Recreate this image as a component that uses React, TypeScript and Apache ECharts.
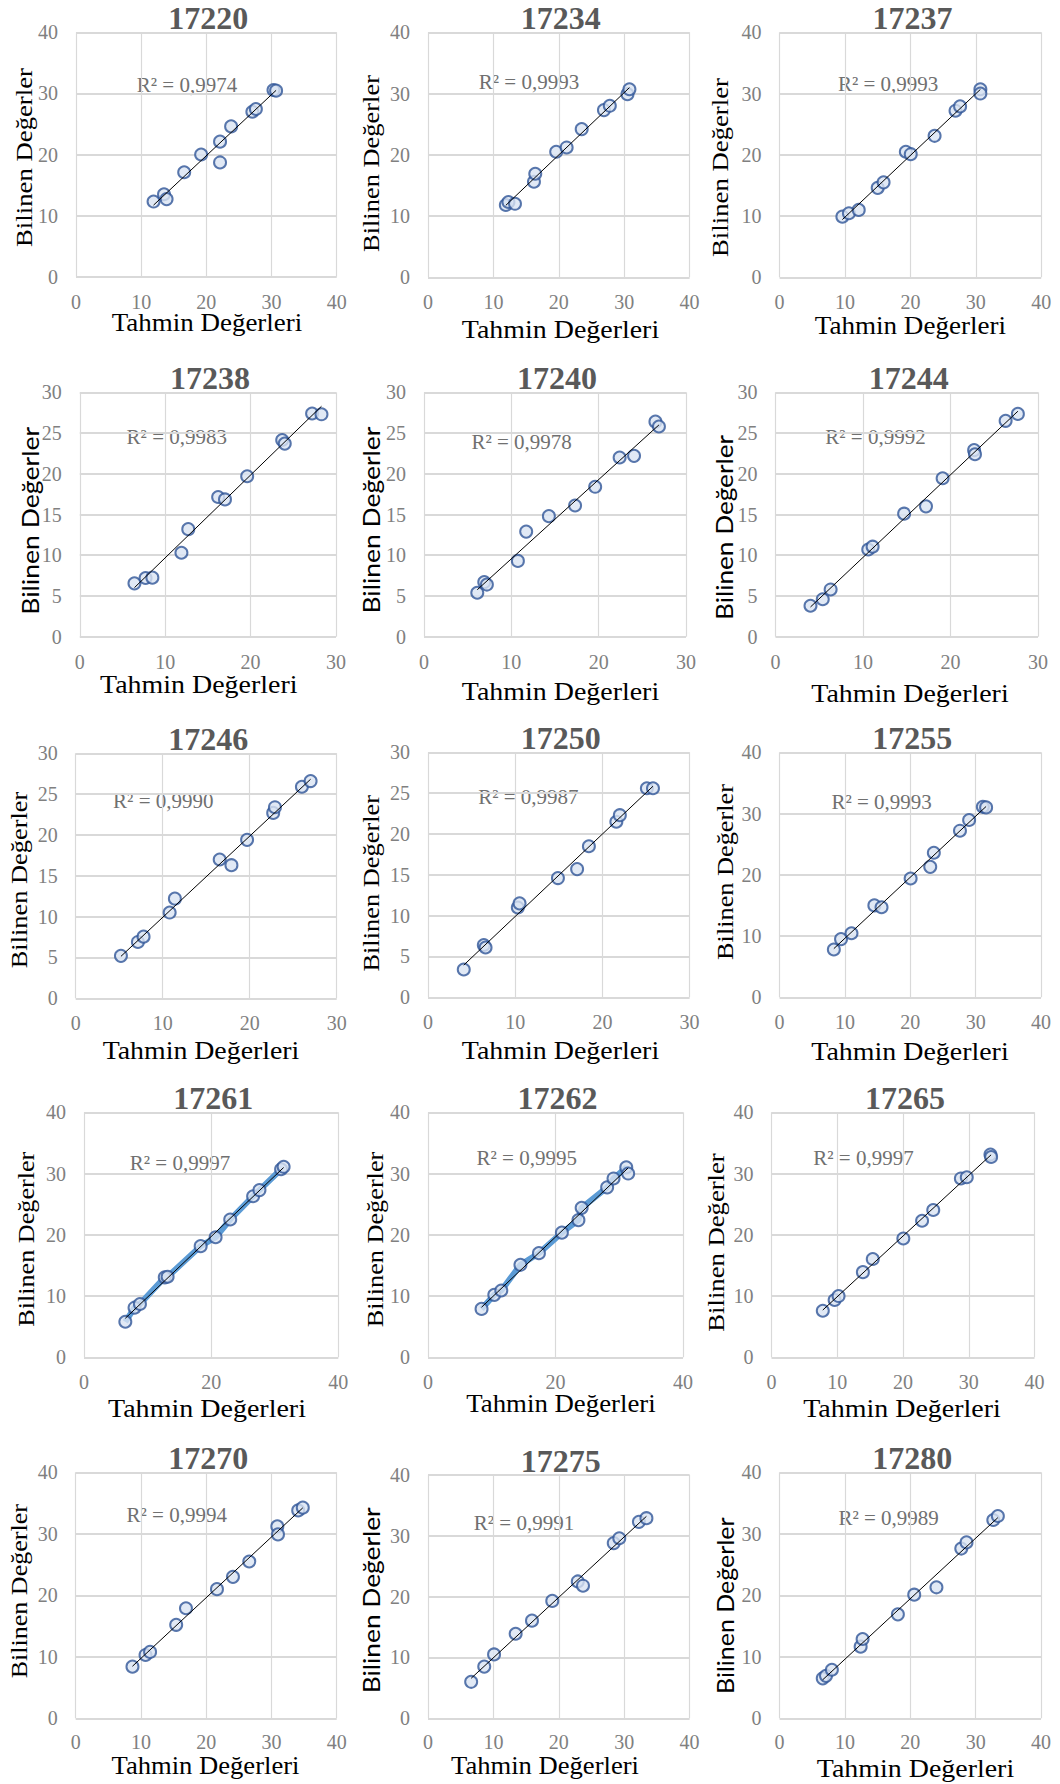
import React, { useEffect, useRef } from "react";
import * as echarts from "echarts";

// ---------- titles & labels ----------
const titles = ["17220", "17234", "17237", "17238", "17240", "17244", "17246", "17250", "17255", "17261", "17262", "17265", "17270", "17275", "17280"];
const r2Labels = ["R² = 0,9974", "R² = 0,9993", "R² = 0,9993", "R² = 0,9983", "R² = 0,9978", "R² = 0,9992", "R² = 0,9990", "R² = 0,9987", "R² = 0,9993", "R² = 0,9997", "R² = 0,9995", "R² = 0,9997", "R² = 0,9994", "R² = 0,9991", "R² = 0,9989"];
const xAxisName = "Tahmin Değerleri";
const yAxisName = "Bilinen Değerler";

// ---------- data (Tahmin = x, Bilinen = y) ----------
const x17220 = [11.9, 13.5, 13.9, 16.6, 19.2, 22.1, 22.1, 23.8, 27.06, 27.6, 30.3, 30.7];
const y17220 = [12.3, 13.5, 12.7, 17.1, 20.0, 22.1, 18.7, 24.6, 27.0, 27.45, 30.55, 30.45];

const x17234 = [11.9, 12.3, 13.3, 16.2, 16.4, 19.6, 21.2, 23.5, 26.9, 27.8, 30.5, 30.8];
const y17234 = [11.8, 12.3, 12.0, 15.6, 16.9, 20.5, 21.2, 24.2, 27.3, 28.0, 29.9, 30.7];

const x17237 = [9.6, 10.6, 12.1, 15.0, 15.9, 19.3, 20.05, 23.7, 26.9, 27.6, 30.7, 30.7];
const y17237 = [9.9, 10.45, 11.0, 14.6, 15.5, 20.5, 20.1, 23.1, 27.2, 27.9, 30.7, 30.0];

const x17238 = [6.4, 7.7, 8.5, 11.9, 12.7, 16.2, 17.0, 19.6, 23.7, 24.0, 27.2, 28.3];
const y17238 = [6.55, 7.2, 7.25, 10.3, 13.2, 17.15, 16.85, 19.7, 24.15, 23.7, 27.4, 27.3];

const x17240 = [6.1, 6.9, 7.2, 10.75, 11.7, 14.3, 17.3, 19.6, 22.4, 24.05, 26.5, 26.9];
const y17240 = [5.4, 6.7, 6.4, 9.3, 12.9, 14.8, 16.1, 18.4, 22.0, 22.2, 26.4, 25.8];

const x17244 = [4.0, 5.4, 6.3, 10.6, 11.1, 14.7, 17.2, 19.1, 22.7, 22.8, 26.3, 27.7];
const y17244 = [3.8, 4.6, 5.8, 10.7, 11.05, 15.1, 16.0, 19.45, 22.9, 22.4, 26.5, 27.35];

const x17246 = [5.2, 7.15, 7.8, 10.8, 11.4, 16.55, 17.9, 19.7, 22.7, 22.9, 26.0, 27.0];
const y17246 = [5.2, 6.9, 7.55, 10.5, 12.2, 17.0, 16.3, 19.4, 22.7, 23.4, 25.9, 26.6];

const x17250 = [4.1, 6.4, 6.6, 10.3, 10.5, 14.9, 17.1, 18.45, 21.6, 22.0, 25.1, 25.8];
const y17250 = [3.4, 6.4, 6.1, 11.0, 11.5, 14.6, 15.7, 18.5, 21.5, 22.3, 25.6, 25.6];

const x17255 = [8.3, 9.4, 11.0, 14.5, 15.6, 20.05, 23.05, 23.6, 27.6, 29.0, 31.1, 31.6];
const y17255 = [7.8, 9.5, 10.45, 15.0, 14.7, 19.4, 21.3, 23.6, 27.2, 28.95, 31.1, 31.0];

const x17261 = [6.5, 7.95, 8.8, 12.7, 13.15, 18.35, 20.7, 23.0, 26.6, 27.6, 31.0, 31.4];
const y17261 = [5.8, 8.1, 8.7, 13.05, 13.15, 18.15, 19.6, 22.5, 26.3, 27.3, 30.7, 31.1];

const x17262 = [8.4, 10.4, 11.5, 14.5, 17.4, 21.0, 23.6, 24.1, 28.1, 29.1, 31.1, 31.4];
const y17262 = [7.9, 10.2, 10.9, 15.1, 17.0, 20.35, 22.4, 24.4, 27.75, 29.2, 31.0, 30.0];

const x17265 = [7.8, 9.6, 10.2, 13.9, 15.4, 20.05, 22.9, 24.6, 28.8, 29.7, 33.3, 33.4];
const y17265 = [7.6, 9.35, 10.0, 13.9, 16.05, 19.4, 22.3, 24.05, 29.2, 29.4, 33.1, 32.7];

const x17270 = [8.7, 10.7, 11.4, 15.4, 16.9, 21.65, 24.1, 26.6, 30.9, 31.0, 34.1, 34.8];
const y17270 = [8.4, 10.3, 10.8, 15.2, 17.9, 21.0, 23.0, 25.5, 31.2, 29.9, 33.8, 34.25];

const x17275 = [6.6, 8.6, 10.1, 13.4, 15.9, 19.0, 22.9, 23.7, 28.4, 29.25, 32.25, 33.4];
const y17275 = [6.0, 8.5, 10.5, 13.9, 16.05, 19.3, 22.5, 21.8, 28.8, 29.6, 32.3, 32.9];

const x17280 = [6.6, 7.1, 8.0, 12.4, 12.7, 18.1, 20.6, 24.0, 27.8, 28.6, 32.7, 33.4];
const y17280 = [6.5, 6.9, 7.9, 11.65, 12.9, 16.9, 20.1, 21.3, 27.6, 28.6, 32.25, 32.9];

const xsList = [x17220, x17234, x17237, x17238, x17240, x17244, x17246, x17250, x17255, x17261, x17262, x17265, x17270, x17275, x17280];
const ysList = [y17220, y17234, y17237, y17238, y17240, y17244, y17246, y17250, y17255, y17261, y17262, y17265, y17270, y17275, y17280];

// ---------- axis scales ----------
const axisMaxX = [40, 40, 40, 30, 30, 30, 30, 30, 40, 40, 40, 40, 40, 40, 40];
const axisStepX = [10, 10, 10, 10, 10, 10, 10, 10, 10, 20, 20, 10, 10, 10, 10];
const axisMaxY = [40, 40, 40, 30, 30, 30, 30, 30, 40, 40, 40, 40, 40, 40, 40];
const axisStepY = [10, 10, 10, 5, 5, 5, 5, 5, 10, 10, 10, 10, 10, 10, 10];
const connectLine = [false, false, false, false, false, false, false, false, false, true, true, false, false, false, false];
const sansYName = [false, false, false, true, true, true, false, false, false, false, false, false, false, true, true];

// ---------- layout (pixels) ----------
// [left, top, right, bottom] of each plot area
const plotBoxes = [
  [76, 32.3, 336.7, 276.7], [428, 32.3, 689.6, 277.3], [779.6, 32.3, 1041.2, 277.3],
  [79.8, 392.3, 336, 636.7], [424, 392.3, 686, 636.7], [775.5, 392.3, 1038, 636.7],
  [75.7, 753.3, 336.7, 998.3], [428, 752.3, 689.6, 997.3], [779.6, 752.3, 1041, 997.3],
  [84, 1112.3, 338.3, 1357.3], [428, 1112.3, 683, 1357.3], [771.5, 1112.3, 1034.5, 1357.3],
  [75.7, 1472.3, 336.7, 1718.3], [428, 1475, 689.6, 1718.3], [779.6, 1472.3, 1041, 1718.3],
];
const r2Offsets = [
  [111, 53], [101, 50], [108.5, 52], [97, 44.4], [97.6, 49.4], [100, 44.4],
  [87.6, 48], [100.4, 44.7], [102, 49.4], [96, 50.7], [98.7, 46], [92, 46],
  [101, 42.7], [96, 48], [109, 46],
];
const yNamePos = [
  [23.7, 157.5], [370, 163.5], [719.5, 167.5], [29.8, 520.8], [371, 520], [723.5, 527.5],
  [19, 880], [371, 883.3], [724.5, 872], [26, 1239.2], [374.6, 1239.5], [715.7, 1242.5],
  [19, 1591.2], [370, 1600.3], [724.5, 1605.7],
];
const yNameLength = [179, 177, 179, 188, 187, 185, 176.7, 176.7, 176, 175, 175.7, 178.4, 174.3, 186, 176.7];
const xNamePos = [
  [207, 323], [560.5, 330], [910.4, 326.3], [198.8, 685], [560.5, 691.7], [910, 693.3],
  [201, 1050], [560.5, 1051], [910, 1051.7], [207, 1408.3], [561, 1404], [902, 1409],
  [205.5, 1766], [545, 1766], [915.5, 1769],
];
const xNameLength = [190.6, 197.4, 191.3, 197.5, 197.4, 197.4, 196.7, 197.4, 197.4, 198, 189.3, 197.7, 188, 188, 197.4];

const SERIF = "'Liberation Serif', 'Times New Roman', serif";
const SANS = "Lato, 'Open Sans', sans-serif";

function textWidth(text: string, font: string) {
  const c = document.createElement("canvas").getContext("2d");
  if (!c) return text.length * 10;
  c.font = font;
  return c.measureText(text).width;
}

function fitLine(xs: number[], ys: number[]) {
  const n = xs.length;
  const mx = xs.reduce((a, b) => a + b, 0) / n;
  const my = ys.reduce((a, b) => a + b, 0) / n;
  let sxy = 0;
  let sxx = 0;
  for (let i = 0; i < n; i++) {
    sxy += (xs[i] - mx) * (ys[i] - my);
    sxx += (xs[i] - mx) * (xs[i] - mx);
  }
  const k = sxy / sxx;
  const b = my - k * mx;
  const x0 = Math.min(...xs);
  const x1 = Math.max(...xs);
  return [[x0, b + k * x0], [x1, b + k * x1]];
}

function buildOption() {
  const grid: any[] = [];
  const xAxis: any[] = [];
  const yAxis: any[] = [];
  const series: any[] = [];
  const graphic: any[] = [];

  const X_NAME_SIZE = 25;
  const Y_SERIF_SIZE = 24;
  const Y_SANS_SIZE = 24;
  const xNameNatural = textWidth(xAxisName, `${X_NAME_SIZE}px ${SERIF}`);
  const ySerifNatural = textWidth(yAxisName, `${Y_SERIF_SIZE}px ${SERIF}`);
  const ySansNatural = textWidth(yAxisName, `${Y_SANS_SIZE}px ${SANS}`);

  titles.forEach((title, i) => {
    const [l, t, r, b] = plotBoxes[i];
    grid.push({ left: l, top: t, width: r - l, height: b - t, containLabel: false });
    xAxis.push({
      type: "value", gridIndex: i, min: 0, max: axisMaxX[i], interval: axisStepX[i],
      axisLine: { show: false }, axisTick: { show: false },
      splitLine: { show: true, showMinLine: true, showMaxLine: true, lineStyle: { color: "#d9d9d9", width: 1.2 } },
      axisLabel: { fontFamily: SERIF, fontSize: 20, color: "#808080", margin: i >= 12 ? 14 : 15 },
    });
    yAxis.push({
      type: "value", gridIndex: i, min: 0, max: axisMaxY[i], interval: axisStepY[i],
      axisLine: { show: false }, axisTick: { show: false },
      splitLine: { show: true, showMinLine: true, showMaxLine: true, lineStyle: { color: "#d9d9d9", width: 1.8 } },
      axisLabel: { fontFamily: SERIF, fontSize: 20, color: "#808080", margin: 18 },
    });

    const xs = xsList[i];
    const ys = ysList[i];
    const pts = xs.map((x, j) => [x, ys[j]]);

    if (connectLine[i]) {
      const sorted = [...pts].sort((a, b2) => a[0] - b2[0]);
      series.push({
        type: "line", xAxisIndex: i, yAxisIndex: i, data: sorted, symbol: "none",
        lineStyle: { color: "#5b9bd5", width: 6 }, z: 2, silent: true,
      });
    }
    series.push({
      type: "scatter", xAxisIndex: i, yAxisIndex: i, data: pts, symbol: "circle", symbolSize: 12,
      itemStyle: { color: "#dae3f3", borderColor: "#2f5597", borderWidth: 2 }, z: 3,
    });
    series.push({
      type: "line", xAxisIndex: i, yAxisIndex: i, data: fitLine(xs, ys), symbol: "none",
      lineStyle: { color: "#000000", width: 1 }, z: 4, silent: true,
    });

    // title
    graphic.push({
      type: "text", x: (l + r) / 2 + 2, y: t - 14,
      style: { text: title, fontFamily: SERIF, fontSize: 32, fontWeight: "bold", fill: "#595959", align: "center", verticalAlign: "middle" },
    });
    // R²
    graphic.push({
      type: "text", x: l + r2Offsets[i][0], y: t + r2Offsets[i][1],
      style: { text: r2Labels[i], fontFamily: SERIF, fontSize: 21, fill: "#707070", align: "center", verticalAlign: "middle" },
    });
    // x axis name
    graphic.push({
      type: "text", x: xNamePos[i][0], y: xNamePos[i][1],
      scaleX: xNameLength[i] / xNameNatural,
      style: { text: xAxisName, fontFamily: SERIF, fontSize: X_NAME_SIZE, fill: "#000000", align: "center", verticalAlign: "middle" },
    });
    // y axis name
    const sans = sansYName[i];
    graphic.push({
      type: "text", x: yNamePos[i][0], y: yNamePos[i][1], rotation: Math.PI / 2,
      scaleX: yNameLength[i] / (sans ? ySansNatural : ySerifNatural),
      style: {
        text: yAxisName, fontFamily: sans ? SANS : SERIF, fontSize: sans ? Y_SANS_SIZE : Y_SERIF_SIZE,
        fill: "#000000", align: "center", verticalAlign: "middle",
      },
    });
  });

  return {
    animation: false,
    backgroundColor: "#ffffff",
    grid, xAxis, yAxis, series, graphic,
  };
}

export default function App() {
  const ref = useRef<HTMLDivElement>(null);
  useEffect(() => {
    if (!ref.current) return;
    const chart = echarts.init(ref.current, undefined, { renderer: "svg" });
    chart.setOption(buildOption() as any);
    return () => chart.dispose();
  }, []);
  return (
    <div
      ref={ref}
      style={{ position: "absolute", left: 0, top: 0, width: 1060, height: 1784, background: "#fff" }}
    />
  );
}
